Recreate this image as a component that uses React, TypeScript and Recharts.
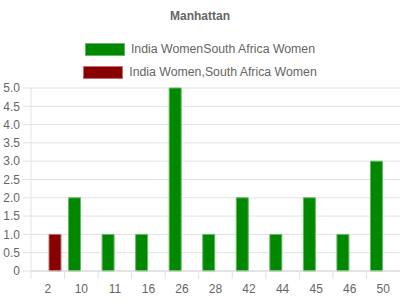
import { BarChart, Bar, XAxis, YAxis, CartesianGrid, Legend } from 'recharts'

const categories = ['2', '10', '11', '16', '26', '28', '42', '44', '45', '46', '50']
const greenValues: (number | null)[] = [null, 2, 1, 1, 5, 1, 2, 1, 2, 1, 3]
const redValues: (number | null)[] = [1, null, null, null, null, null, null, null, null, null, null]
const yTicks = [0, 0.5, 1, 1.5, 2, 2.5, 3, 3.5, 4, 4.5, 5]

const seriesNames = ['India WomenSouth Africa Women', 'India Women,South Africa Women']

const data = categories.map((name, i) => ({
  name,
  green: greenValues[i],
  red: redValues[i],
}))

const FONT = 'Arial, "Liberation Sans", sans-serif'
const TEXT = '#666666'
const GRID = '#e2e2e2'

const GREEN = '#008800'
const GREEN_EDGE = '#66b866'
const RED = '#880000'
const RED_EDGE = '#c07070'

const TICK_SIZE = 8
const TICK_MARGIN = 5

function XTick(props: any) {
  const { x, y, payload } = props
  const off = payload?.offset ?? 0
  const axisY = y - TICK_SIZE - TICK_MARGIN
  return (
    <g>
      <line x1={x - off} y1={axisY} x2={x - off} y2={axisY + TICK_SIZE} stroke={GRID} />
      <text x={x} y={y} dy="0.71em" textAnchor="middle" fill={TEXT} fontSize={12} fontFamily={FONT}>
        {payload.value}
      </text>
    </g>
  )
}

function Header() {
  const swatches = [
    { fill: GREEN, edge: GREEN_EDGE },
    { fill: RED, edge: RED_EDGE },
  ]
  return (
    <div style={{ width: 400, fontFamily: FONT }}>
      <div style={{ height: 32, lineHeight: '32px', textAlign: 'center', fontSize: 12, fontWeight: 'bold', color: TEXT }}>
        Manhattan
      </div>
      <div style={{ height: 6 }} />
      {seriesNames.map((s, i) => (
        <div key={s} style={{ display: 'flex', justifyContent: 'center', alignItems: 'center', height: 23 }}>
          <span
            style={{
              display: 'inline-block',
              width: 38,
              height: 11,
              background: swatches[i].fill,
              border: `1px solid ${swatches[i].edge}`,
              marginRight: 6,
            }}
          />
          <span style={{ fontSize: 12.3, color: TEXT, lineHeight: '15px' }}>{s}</span>
        </div>
      ))}
    </div>
  )
}

export default function App() {
  return (
    <div style={{ position: 'absolute', left: 0, top: 0, width: 400, height: 300, background: '#fff' }}>
      <BarChart
        width={400}
        height={300}
        data={data}
        margin={{ top: 88, right: 0, bottom: 0, left: 0 }}
        barSize={12}
        barGap={2}
      >
        <CartesianGrid vertical={false} stroke={GRID} />
        <XAxis
          dataKey="name"
          height={29}
          axisLine={{ stroke: '#d6d6d6' }}
          tickLine={false}
          tickSize={TICK_SIZE}
          tickMargin={TICK_MARGIN}
          interval={0}
          tick={<XTick />}
        />
        <YAxis
          width={31}
          domain={[0, 5]}
          ticks={yTicks}
          interval={0}
          axisLine={{ stroke: GRID }}
          tickLine={{ stroke: GRID }}
          tickSize={8}
          tickMargin={3}
          tick={{ fill: TEXT, fontSize: 12, fontFamily: FONT }}
          tickFormatter={(v: number) => (v === 0 ? '0' : v.toFixed(1))}
        />
        <Legend
          layout="horizontal"
          verticalAlign="middle"
          align="center"
          wrapperStyle={{ top: 0, left: 0, width: 400 }}
          content={() => <Header />}
        />
        <Bar dataKey="green" name={seriesNames[0]} fill={GREEN} stroke={GREEN_EDGE} isAnimationActive={false} />
        <Bar dataKey="red" name={seriesNames[1]} fill={RED} stroke={RED_EDGE} isAnimationActive={false} />
      </BarChart>
    </div>
  )
}
